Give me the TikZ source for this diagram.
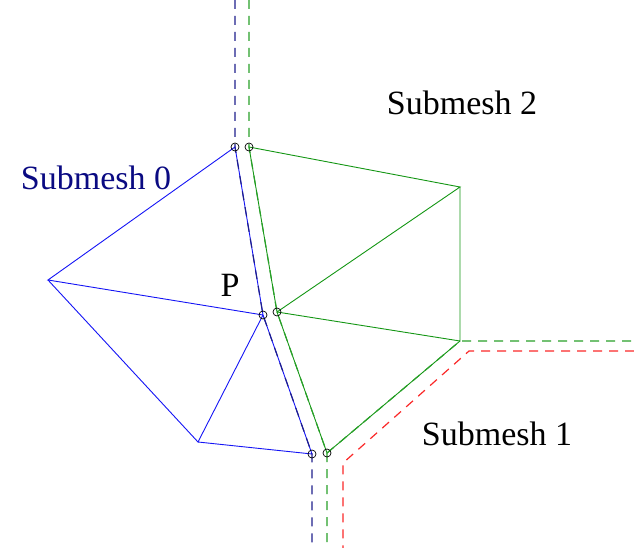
\documentclass[tikz,border=0pt]{standalone}
\usepackage{fontspec}
\setmainfont{Liberation Serif}
\definecolor{meshblue}{RGB}{20,20,245}
\definecolor{dashnavy}{RGB}{30,30,140}
\definecolor{textnavy}{RGB}{10,10,130}
\definecolor{meshgreen}{RGB}{20,150,20}
\definecolor{dashgreen}{RGB}{40,160,40}
\definecolor{dashred}{RGB}{250,40,40}
\begin{document}
\begin{tikzpicture}[x=1pt,y=-1pt,
  bedge/.style={meshblue,line width=0.9pt},
  gedge/.style={meshgreen,line width=0.9pt},
  bnd/.style={line width=1.2pt,dash pattern=on 9pt off 7pt},
  vmark/.style={circle,draw=black,line width=0.7pt,inner sep=0pt,minimum size=8pt},
  lbl/.style={font=\fontsize{34}{40}\selectfont,inner sep=0pt}]
\useasboundingbox (0,0) rectangle (634,548);
% blue mesh vertices
\coordinate (b1) at (235,147);
\coordinate (b2) at (48,280);
\coordinate (b3) at (263,315);
\coordinate (b4) at (198,442);
\coordinate (b5) at (312,454);
% green mesh vertices
\coordinate (g1) at (249,147);
\coordinate (g2) at (460,187);
\coordinate (g3) at (277,312);
\coordinate (g4) at (460,341);
\coordinate (g5) at (327,453);
% boundary free ends
\coordinate (bt) at (235,0);
\coordinate (bb) at (312,548);
\coordinate (gt) at (249,0);
\coordinate (gb) at (327,548);
\coordinate (gr) at (634,341);
\coordinate (rr) at (634,351);
\coordinate (rc) at (469,351);
\coordinate (rd) at (343,463);
\coordinate (rb) at (343,548);
% blue mesh
\draw[bedge] (b1)--(b2)--(b3)--cycle;
\draw[bedge] (b2)--(b4)--(b3);
\draw[bedge] (b4)--(b5)--(b3);
% green mesh
\draw[gedge] (g1)--(g2)--(g3)--cycle;
\draw[gedge] (g2)--(g4)--(g3);
\draw[gedge] (g3)--(g5)--(g4);
% submesh boundaries
\draw[bnd,dashnavy] (bt)--(b1)--(b3)--(b5)--(bb);
\draw[bnd,dashgreen] (gt)--(g1)--(g3)--(g5)--(gb);
\draw[bnd,dashgreen] (g5)--(g4)--(gr);
\draw[bnd,dashred] (rr)--(rc)--(rd)--(rb);
% interface vertex marks
\node[vmark] (m1) at (b1) {};
\node[vmark] (m2) at (b3) {};
\node[vmark] (m3) at (b5) {};
\node[vmark] (m4) at (g1) {};
\node[vmark] (m5) at (g3) {};
\node[vmark] (m6) at (g5) {};
% labels
\node[lbl,text=textnavy] (s0) at (96,178) {Submesh 0};
\node[lbl] (s2) at (462,103) {Submesh 2};
\node[lbl] (s1) at (497,434) {Submesh 1};
\node[lbl] (p) at (230,285) {P};
\end{tikzpicture}
\end{document}
